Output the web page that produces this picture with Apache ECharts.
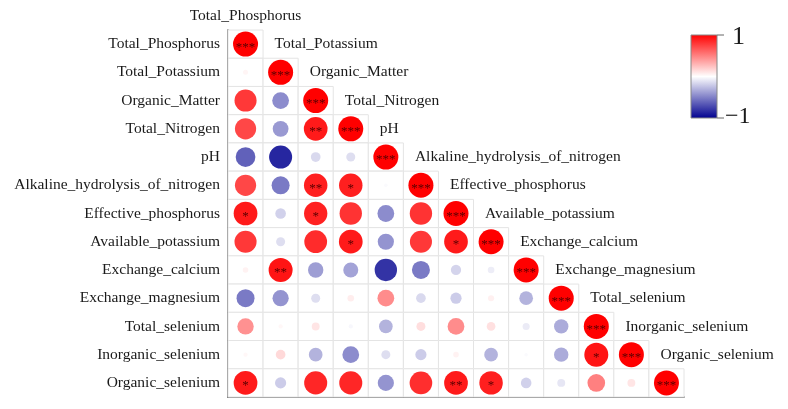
<!DOCTYPE html>
<html>
<head>
<meta charset="utf-8">
<script src="https://cdn.jsdelivr.net/npm/echarts@6/dist/echarts.min.js"></script>
<style>
html, body { margin: 0; padding: 0; background: #fff; }
#chart { width: 788px; height: 409px; }
</style>
</head>
<body>
<div id="chart"></div>
<script>
// variable names (rows top to bottom, columns left to right)
var variables = [
  'Total_Phosphorus', 'Total_Potassium', 'Organic_Matter', 'Total_Nitrogen', 'pH',
  'Alkaline_hydrolysis_of_nitrogen', 'Effective_phosphorus', 'Available_potassium',
  'Exchange_calcium', 'Exchange_magnesium', 'Total_selenium', 'Inorganic_selenium',
  'Organic_selenium'
]

// lower triangle of the correlation matrix, row i holds columns 0..i
var corr = [
  [1],
  [0.04, 1],
  [0.78, -0.45, 1],
  [0.72, -0.40, 0.90, 1],
  [-0.62, -0.85, -0.15, -0.13, 1],
  [0.72, -0.52, 0.88, 0.88, -0.02, 1],
  [0.90, -0.18, 0.87, 0.80, -0.45, 0.80, 1],
  [0.78, -0.13, 0.83, 0.90, -0.42, 0.78, 0.90, 1],
  [0.05, 0.92, -0.38, -0.36, -0.80, -0.52, -0.17, -0.07, 1],
  [-0.52, -0.42, -0.13, 0.07, 0.45, -0.15, -0.20, 0.06, -0.30, 1],
  [0.43, 0.03, 0.10, -0.03, -0.30, 0.13, 0.45, 0.12, -0.08, -0.33, 1],
  [0.03, 0.15, -0.30, -0.45, -0.13, -0.20, 0.05, -0.30, -0.02, -0.33, 0.92, 1],
  [0.90, -0.20, 0.85, 0.85, -0.42, 0.82, 0.90, 0.88, -0.18, -0.10, 0.50, 0.10, 1]
]

// significance marks, same shape as corr
var sig = [
  ['***'],
  ['', '***'],
  ['', '', '***'],
  ['', '', '**', '***'],
  ['', '', '', '', '***'],
  ['', '', '**', '*', '', '***'],
  ['*', '', '*', '', '', '', '***'],
  ['', '', '', '*', '', '', '*', '***'],
  ['', '**', '', '', '', '', '', '', '***'],
  ['', '', '', '', '', '', '', '', '', '***'],
  ['', '', '', '', '', '', '', '', '', '', '***'],
  ['', '', '', '', '', '', '', '', '', '', '*', '***'],
  ['*', '', '', '', '', '', '**', '*', '', '', '', '', '***']
]

var serif = "'Liberation Serif', 'Times New Roman', serif"

var cells = []
var circles = []
for (var i = 0; i < corr.length; i++) {
  for (var j = 0; j < corr[i].length; j++) {
    cells.push([j, i])
    circles.push([j, i, corr[i][j], sig[i][j]])
  }
}
var diagLabels = variables.map(function (v, k) { return [k, k] })

var myChart = echarts.init(document.getElementById('chart'))

var option = {
  animation: false,
  grid: { left: 228, top: 30, width: 456, height: 367 },
  xAxis: {
    type: 'category',
    data: variables,
    axisLine: { show: true, lineStyle: { color: '#444', width: 1.5 } },
    axisTick: { show: false },
    axisLabel: { show: false },
    splitLine: { show: false }
  },
  yAxis: {
    type: 'category',
    data: variables,
    inverse: true,
    axisLine: { show: true, lineStyle: { color: '#444', width: 1.5 } },
    axisTick: { show: false },
    axisLabel: { fontFamily: serif, fontSize: 15.5, color: '#1a1a1a', margin: 8 },
    splitLine: { show: false }
  },
  visualMap: {
    show: false,
    seriesIndex: 1,
    dimension: 2,
    min: -1,
    max: 1,
    inRange: { color: ['#00008f', '#ffffff', '#ff0000'] }
  },
  series: [
    // cell borders
    {
      type: 'custom',
      data: cells,
      silent: true,
      z: 1,
      renderItem: function (params, api) {
        var c = api.coord([api.value(0), api.value(1)])
        var s = api.size([1, 1])
        return {
          type: 'rect',
          shape: { x: c[0] - s[0] / 2, y: c[1] - s[1] / 2, width: s[0], height: s[1] },
          style: { fill: '#fff', stroke: '#e4e4e4', lineWidth: 1 }
        }
      }
    },
    // circles
    {
      type: 'scatter',
      data: circles,
      z: 3,
      symbolSize: function (v) { return 25 * Math.sqrt(Math.abs(v[2])) },
      itemStyle: { opacity: 1 },
      label: {
        show: true,
        position: 'inside',
        formatter: function (p) { return p.data[3] },
        color: '#5a0000',
        fontFamily: serif,
        fontSize: 13,
        offset: [0, 3]
      },
      emphasis: { disabled: true }
    },
    // labels along the diagonal
    {
      type: 'custom',
      data: diagLabels,
      silent: true,
      z: 4,
      renderItem: function (params, api) {
        var k = api.value(0)
        var c = api.coord([k, k])
        var s = api.size([1, 1])
        return {
          type: 'text',
          x: k === 0 ? c[0] : c[0] - 6,
          y: c[1] - s[1],
          style: {
            text: variables[k],
            fill: '#1a1a1a',
            font: '15.5px ' + serif,
            align: k === 0 ? 'center' : 'left',
            verticalAlign: 'middle'
          }
        }
      }
    }
  ],
  // colour bar
  graphic: [
    {
      type: 'rect',
      shape: { x: 691, y: 35, width: 26, height: 83 },
      style: {
        fill: new echarts.graphic.LinearGradient(0, 0, 0, 1, [
          { offset: 0, color: '#ff0000' },
          { offset: 0.5, color: '#ffffff' },
          { offset: 1, color: '#00008f' }
        ]),
        stroke: '#888',
        lineWidth: 1
      }
    },
    { type: 'line', shape: { x1: 717, y1: 35, x2: 724, y2: 35 }, style: { stroke: '#666', lineWidth: 1 } },
    { type: 'line', shape: { x1: 717, y1: 118, x2: 724, y2: 118 }, style: { stroke: '#666', lineWidth: 1 } },
    { type: 'text', x: 732, y: 37, style: { text: '1', font: '26px ' + serif, fill: '#1a1a1a', verticalAlign: 'middle' } },
    { type: 'text', x: 725, y: 117, style: { text: '\u22121', font: '24px ' + serif, fill: '#1a1a1a', verticalAlign: 'middle' } }
  ]
}

myChart.setOption(option)
</script>
</body>
</html>
